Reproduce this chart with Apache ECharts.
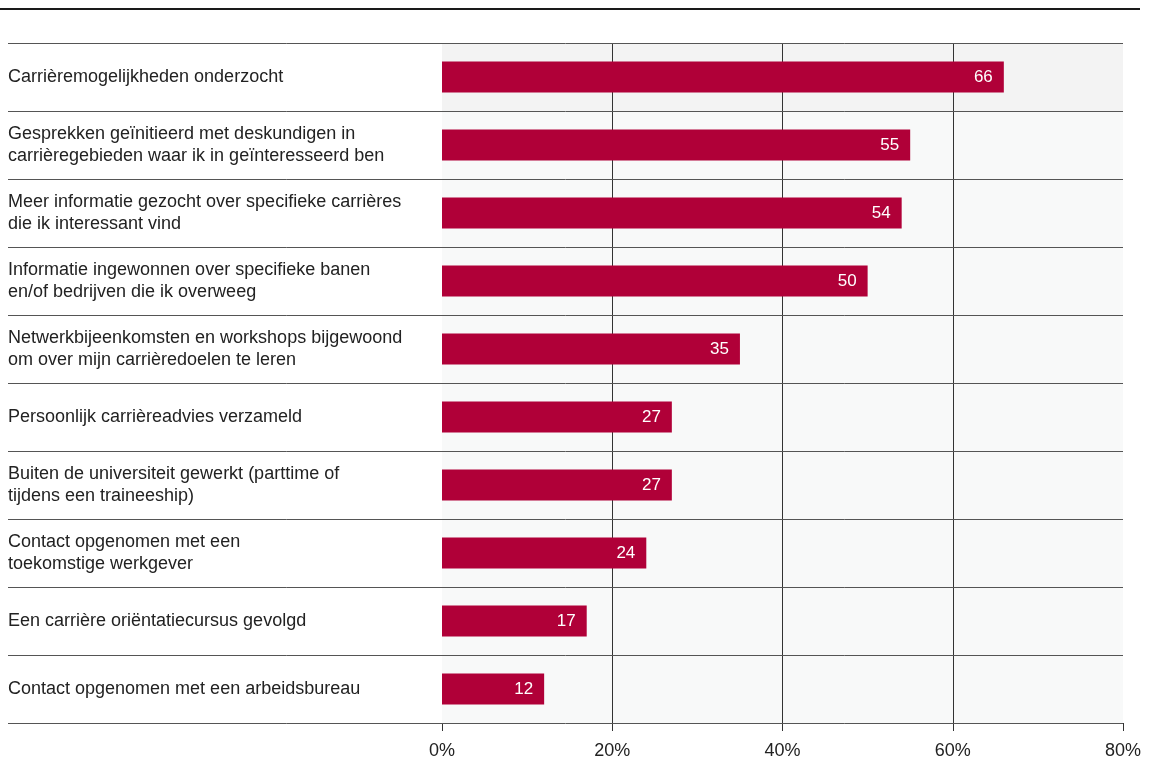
<!DOCTYPE html>
<html>
<head>
<meta charset="utf-8">
<style>
  html, body { margin: 0; padding: 0; background: #fff; }
  #chart { width: 1150px; height: 783px; }
</style>
<script src="https://cdn.jsdelivr.net/npm/echarts@6/dist/echarts.min.js"></script>
</head>
<body>
<div id="chart"></div>
<script>
// Activities undertaken, share of respondents (%)
const categories = [
  'Carrièremogelijkheden onderzocht',
  'Gesprekken geïnitieerd met deskundigen in\ncarrièregebieden waar ik in geïnteresseerd ben',
  'Meer informatie gezocht over specifieke carrières\ndie ik interessant vind',
  'Informatie ingewonnen over specifieke banen\nen/of bedrijven die ik overweeg',
  'Netwerkbijeenkomsten en workshops bijgewoond\nom over mijn carrièredoelen te leren',
  'Persoonlijk carrièreadvies verzameld',
  'Buiten de universiteit gewerkt (parttime of\ntijdens een traineeship)',
  'Contact opgenomen met een\ntoekomstige werkgever',
  'Een carrière oriëntatiecursus gevolgd',
  'Contact opgenomen met een arbeidsbureau'
];
const values = [66, 55, 54, 50, 35, 27, 27, 24, 17, 12];
const highlighted = categories[0];

const font = 'Liberation Sans, Arial, Helvetica, sans-serif';
const LABEL_LEFT = 8;       // where the category labels and row rules start
// row shading: the highlighted row is a touch darker than the rest
const rowShades = categories.map(c => (c === highlighted ? '#f3f3f3' : '#f8f9f9'));

// Row rules: one line on top of every category band, plus one under the last,
// running from the label column across the whole plot.
function renderRowRule(params, api) {
  const idx = api.value(1);
  const cs = params.coordSys;
  const center = api.coord([0, idx])[1];
  const band = api.size([0, 1])[1];
  const ys = [center - band / 2];
  if (idx === categories.length - 1) ys.push(center + band / 2);
  return {
    type: 'group',
    children: ys.map(y => ({
      type: 'line',
      shape: { x1: LABEL_LEFT, y1: Math.round(y) + 0.5, x2: cs.x + cs.width, y2: Math.round(y) + 0.5 },
      style: { stroke: '#555', lineWidth: 1 }
    }))
  };
}

const chart = echarts.init(document.getElementById('chart'));

chart.setOption({
  animation: false,
  backgroundColor: '#ffffff',
  textStyle: { fontFamily: font },
  tooltip: { show: false },
  graphic: [{
    type: 'line',
    shape: { x1: 0, y1: 9, x2: 1140, y2: 9 },
    style: { stroke: '#1a1a1a', lineWidth: 2 }
  }],
  grid: { left: 442, right: 27, top: 43, bottom: 60, containLabel: false, show: false },
  xAxis: {
    type: 'value', min: 0, max: 80, interval: 20,
    axisLine: { show: false },
    axisTick: { show: true, length: 8, lineStyle: { color: '#333', width: 1 } },
    minorTick: { show: false },
    axisLabel: { formatter: '{value}%', color: '#222', fontSize: 18, margin: 19, fontFamily: font },
    splitLine: { show: true, showMinLine: false, showMaxLine: false,
      lineStyle: { color: '#333', width: 1 } },
    minorSplitLine: { show: false },
    splitArea: { show: false },
    axisPointer: { show: false }
  },
  yAxis: {
    type: 'category', data: categories, inverse: true,
    axisLine: { show: false }, axisTick: { show: false },
    axisLabel: { align: 'left', margin: 442 - LABEL_LEFT, color: '#222', fontSize: 18,
      lineHeight: 22, fontFamily: font },
    splitLine: { show: false },
    splitArea: { show: true, areaStyle: { color: rowShades } },
    axisPointer: { show: false }
  },
  series: [
    {
      type: 'custom',
      renderItem: renderRowRule,
      clip: false,
      silent: true,
      z: 1,
      encode: { x: 0, y: 1 },
      data: categories.map(c => [0, c])
    },
    {
      type: 'bar',
      data: values,
      barWidth: 31,
      z: 2,
      itemStyle: { color: '#b00038' },
      label: {
        show: true, position: 'insideRight', distance: 11,
        color: '#ffffff', fontSize: 17, fontFamily: font
      }
    }
  ]
});
</script>
</body>
</html>
